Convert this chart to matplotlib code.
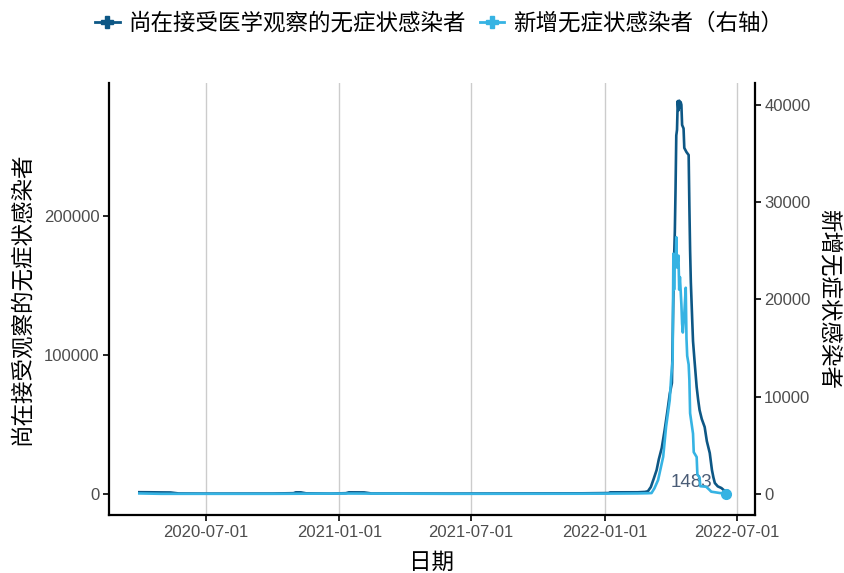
import matplotlib
matplotlib.use("Agg")
import matplotlib.pyplot as plt
import matplotlib.dates as mdates
from matplotlib.lines import Line2D
import pandas as pd

plt.rcParams['font.family'] = ['Liberation Sans', 'Noto Sans CJK SC', 'DejaVu Sans']

# ---- data ----
obs_dates = ["2020-04-01", "2020-04-15", "2020-05-01", "2020-05-14", "2020-05-25",
             "2020-07-01", "2020-10-01", "2020-10-30", "2020-11-02", "2020-11-09",
             "2020-11-16", "2020-12-20", "2021-01-10", "2021-01-14", "2021-02-04",
             "2021-02-14", "2021-06-01", "2021-12-01", "2022-01-06", "2022-01-08",
             "2022-02-15", "2022-02-25", "2022-03-01", "2022-03-05", "2022-03-09",
             "2022-03-13", "2022-03-16", "2022-03-20", "2022-03-24", "2022-03-28",
             "2022-03-31", "2022-04-03", "2022-04-04", "2022-04-05", "2022-04-06",
             "2022-04-07", "2022-04-08", "2022-04-09", "2022-04-10", "2022-04-11",
             "2022-04-12", "2022-04-13", "2022-04-14", "2022-04-15", "2022-04-16",
             "2022-04-17", "2022-04-19", "2022-04-20", "2022-04-21", "2022-04-23",
             "2022-04-26", "2022-04-27", "2022-04-28", "2022-04-29", "2022-05-01",
             "2022-05-02", "2022-05-04", "2022-05-07", "2022-05-09", "2022-05-11",
             "2022-05-14", "2022-05-18", "2022-05-21", "2022-05-25", "2022-05-28",
             "2022-05-30", "2022-06-01", "2022-06-05", "2022-06-10", "2022-06-14",
             "2022-06-17"]
obs_values = [1300, 1250, 1150, 1100, 400,
              300, 350, 600, 1200, 1200,
              500, 300, 600, 1200, 1150,
              400, 300, 500, 700, 1200,
              1250, 1500, 2000, 5000, 11000,
              17300, 25000, 33100, 46000, 60400,
              72000, 79900, 110000, 143000, 170000,
              188500, 220000, 258000, 262000, 282700,
              276000, 283000, 278000, 282000, 280000,
              265500, 263000, 249000, 248000, 246000,
              243900, 206500, 175000, 152500, 123700,
              110000, 96400, 77000, 68000, 60400,
              54000, 48200, 38000, 29500, 17300,
              12000, 7900, 5500, 4300, 2500,
              1483]

new_dates = ["2020-04-01", "2020-05-01", "2020-10-01", "2021-01-15", "2021-06-01",
             "2021-12-01", "2022-02-15", "2022-03-01", "2022-03-06", "2022-03-10",
             "2022-03-15", "2022-03-19", "2022-03-22", "2022-03-26", "2022-03-31",
             "2022-04-02", "2022-04-04", "2022-04-05", "2022-04-06", "2022-04-07",
             "2022-04-08", "2022-04-09", "2022-04-10", "2022-04-12", "2022-04-13",
             "2022-04-14", "2022-04-16", "2022-04-17", "2022-04-18", "2022-04-20",
             "2022-04-22", "2022-04-23", "2022-04-24", "2022-04-26", "2022-04-27",
             "2022-04-28", "2022-05-02", "2022-05-03", "2022-05-07", "2022-05-08",
             "2022-05-11", "2022-05-12", "2022-05-20", "2022-05-25", "2022-05-27",
             "2022-06-08", "2022-06-17"]
new_values = [60, 20, 20, 50, 20,
              30, 60, 80, 100, 590,
              1440, 2800, 3830, 6920, 9660,
              12060, 13780, 24700, 21000, 24000,
              23300, 26400, 23300, 24500, 21000,
              22300, 19500, 17500, 16600, 18500,
              21200, 16000, 14200, 13300, 11700,
              8300, 6200, 4300, 3800, 2000,
              1700, 800, 750, 400, 240,
              100, 50]

obs_label = "尚在接受医学观察的无症状感染者"
new_label = "新增无症状感染者（右轴）"
left_ticks = [0, 100000, 200000]
right_ticks = [0, 10000, 20000, 30000, 40000]
x_ticks = ["2020-07-01", "2021-01-01", "2021-07-01", "2022-01-01", "2022-07-01"]
end_label = "1483"

# ---- plotting ----
dark = '#0d5785'
light = '#36b3e3'
W, H = 844, 573
fig = plt.figure(figsize=(W / 100, H / 100), dpi=100)
l, r, t, b = 109, 754.5, 83, 515
ax = fig.add_axes([l / W, 1 - b / H, (r - l) / W, (b - t) / H])
ax2 = ax.twinx()

od = pd.to_datetime(obs_dates)
nd = pd.to_datetime(new_dates)

ax.plot(od, obs_values, color=dark, lw=1.9, zorder=2)
ax.plot(od[-1:], obs_values[-1:], 'o', color=dark, ms=4, zorder=2)
ax2.plot(nd, new_values, color=light, lw=1.9, zorder=3)
ax2.plot(nd[-1:], new_values[-1:], 'o', color=light, ms=7, zorder=3)

ax.set_xlim(pd.Timestamp("2020-02-19 08:00"), pd.Timestamp("2022-07-25 12:00"))
ax.set_ylim(-15100, 295700)
ax2.set_ylim(-15100 / 7, 295700 / 7)

ax.set_xticks(pd.to_datetime(x_ticks))
ax.xaxis.set_major_formatter(mdates.DateFormatter('%Y-%m-%d'))
ax.set_yticks(left_ticks)
ax2.set_yticks(right_ticks)
ax.set_yticklabels([str(v) for v in left_ticks])
ax2.set_yticklabels([str(v) for v in right_ticks])

ax.grid(axis='x', color='#cccccc', lw=1.0)
ax.set_axisbelow(True)

for a in (ax, ax2):
    a.spines['top'].set_visible(False)
    for s in a.spines.values():
        s.set_linewidth(1.6)
        s.set_color('black')
    a.tick_params(axis='both', colors='black', length=4, width=1.2, labelsize=12,
                  labelcolor='#4d4d4d', pad=3)
ax.spines['right'].set_visible(False)
ax2.spines['left'].set_visible(False)
ax2.spines['bottom'].set_visible(False)

cjk = ['Noto Sans CJK SC', 'DejaVu Sans']
ax.set_ylabel("尚在接受观察的无症状感染者", fontsize=16.2, family=cjk, labelpad=8)
ax2.set_ylabel("新增无症状感染者", fontsize=16.2, family=cjk, rotation=-90,
               va='bottom', labelpad=5)
ax.set_xlabel("日期", fontsize=16.2, family=cjk, labelpad=8)

ax.annotate(end_label, xy=(od[-1], obs_values[-1]), xytext=(-25, 7),
            textcoords='offset points', ha='center', va='center',
            fontsize=13.5, color='#4a5c76', zorder=4)

handles = [Line2D([0], [0], color=dark, lw=2, marker='P', ms=8),
           Line2D([0], [0], color=light, lw=2, marker='P', ms=8)]
fig.legend(handles, [obs_label, new_label], loc='center',
           bbox_to_anchor=(439 / W, 1 - 23 / H),
           ncol=2, frameon=False, prop={'family': cjk, 'size': 16.2},
           handlelength=1.1, handletextpad=0.4, columnspacing=0.6)

fig.savefig('out.png', dpi=100)
